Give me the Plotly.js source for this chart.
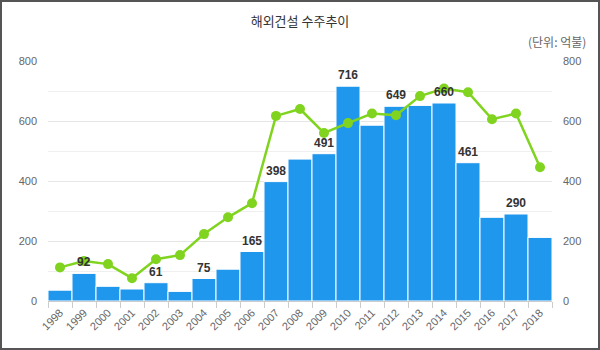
<!DOCTYPE html>
<html><head><meta charset="utf-8">
<script src="https://cdn.plot.ly/plotly-3.0.1.min.js"></script>
<style>
html,body{margin:0;padding:0;background:#fff;}
#wrap{width:596px;height:346px;border:2px solid #555;}
</style></head>
<body><div id="wrap"><div id="chart"></div></div>
<script>
const years = ['1998','1999','2000','2001','2002','2003','2004','2005','2006','2007','2008','2009','2010','2011','2012','2013','2014','2015','2016','2017','2018'];
const barValues = [36,92,49,40,61,32,75,106,165,398,473,491,716,586,649,652,660,461,279,290,212];
const lineValues = [112,133,123,76,139,153,223,279,326,617,640,560,593,625,619,683,708,696,606,625,446];
const labeledYears = ['1999','2002','2004','2006','2007','2009','2010','2012','2014','2015','2017'];

const font = '"Noto Sans CJK KR", "Liberation Sans", Arial, sans-serif';
const numFont = '"Liberation Sans", Arial, sans-serif';
const traces = [
  {type:'bar', x:years, y:barValues,
   marker:{color:'#1f97ed', line:{color:'#fff', width:1}}, hoverinfo:'x+y'},
  {type:'scatter', mode:'lines+markers', x:years, y:lineValues, yaxis:'y2',
   line:{color:'#80d41f', width:2.5}, marker:{color:'#80d41f', size:10}}
];
const labelAnnotations = years.map((y,i)=>({y:y,i:i})).filter(o=>labeledYears.includes(o.y)).map(o=>({
  x:o.i, y:barValues[o.i], xref:'x', yref:'y', text:String(barValues[o.i]), showarrow:false,
  yanchor:'bottom', yshift:2, font:{family:numFont, size:12, color:'#333', weight:'bold'}
}));
const layout = {
  width:596, height:346,
  margin:{l:46, r:46, t:59, b:47},
  showlegend:false, bargap:0,
  paper_bgcolor:'#fff', plot_bgcolor:'#fff',
  font:{family:font, color:'#666', size:11},
  title:{text:'해외건설 수주추이', x:0.5, xanchor:'center', y:0.945, yanchor:'middle', font:{size:13, color:'#333', family:font}},
  xaxis:{type:'category', range:[-0.5,20.5], automargin:false, tickangle:-45, ticks:'outside', tickson:'boundaries', ticklen:6, tickcolor:'#ccc',
    showline:true, linecolor:'#ccc', showgrid:false, tickfont:{size:11, color:'#666', family:numFont}},
  yaxis:{range:[0,800], automargin:false, tickvals:[0,200,400,600,800], showgrid:true, gridcolor:'#e6e6e6', zeroline:false,
    minor:{dtick:100, showgrid:true, gridcolor:'#efefef', ticks:''},
    tickfont:{size:11, color:'#666', family:numFont}, ticklabelstandoff:10},
  yaxis2:{range:[0,800], automargin:false, tickvals:[0,200,400,600,800], overlaying:'y', side:'right', showgrid:false, zeroline:false,
    tickfont:{size:11, color:'#666', family:numFont}, ticklabelstandoff:10},
  annotations:[{text:'(단위: 억불)', xref:'paper', yref:'paper', x:1.071, y:1.08, xanchor:'right', yanchor:'middle', showarrow:false,
    font:{size:12, color:'#666', family:font}}].concat(labelAnnotations)
};
Plotly.newPlot('chart', traces, layout, {displayModeBar:false, staticPlot:true});
</script></body></html>
